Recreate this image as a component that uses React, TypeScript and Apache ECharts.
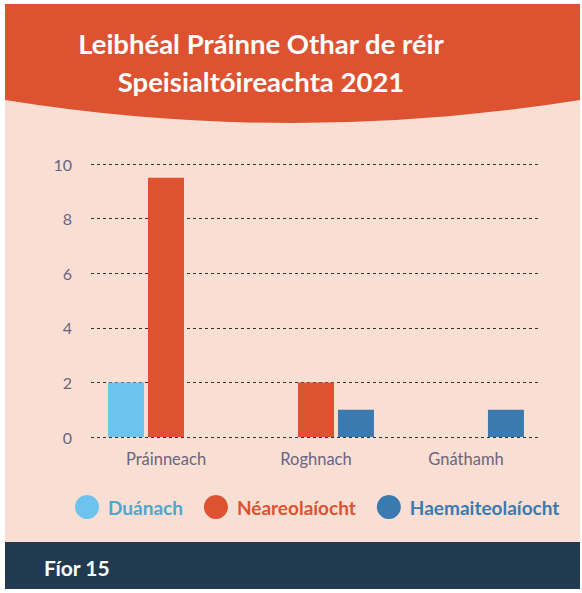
import React, { useEffect, useRef } from "react";
import * as echarts from "echarts";

const categories = ["Práinneach", "Roghnach", "Gnáthamh"];
const duanach = [2, 0, 0];
const neareolaiocht = [9.5, 2, 0];
const haemaiteolaiocht = [0, 1, 1];
const seriesNames = ["Duánach", "Néareolaíocht", "Haemaiteolaíocht"];
const titleLines = ["Leibhéal Práinne Othar de réir", "Speisialtóireachta 2021"];
const footerText = "Fíor 15";

const C_RED = "#dd5230";
const C_LIGHT = "#6cc4ee";
const C_BLUE = "#3a7ab0";
const C_PEACH = "#f9dfd3";
const C_NAVY = "#213a50";
const C_AXIS = "#6b6480";
const FONT = "Lato, 'Open Sans', sans-serif";

echarts.graphic.registerShape(
  "headerShape",
  echarts.graphic.extendPath("M5 4 H580 V100 Q292 146 5 100 Z", {})
);

export default function App() {
  const ref = useRef<HTMLDivElement>(null);
  useEffect(() => {
    if (!ref.current) return;
    const chart = echarts.init(ref.current, undefined, { renderer: "svg" });
    chart.setOption({
      animation: false,
      backgroundColor: "#ffffff",
      title: {
        text: titleLines.join("\n"),
        left: 256,
        top: 19,
        textAlign: "center",
        textStyle: {
          color: "#ffffff",
          fontFamily: FONT,
          fontWeight: "bold",
          fontSize: 27.5,
          lineHeight: 38,
        },
      },
      graphic: [
        {
          type: "rect",
          z: -10,
          shape: { x: 5, y: 4, width: 575, height: 585 },
          style: { fill: C_PEACH },
          silent: true,
        },
        {
          type: "headerShape",
          z: -9,
          x: 0,
          y: 0,
          style: { fill: C_RED },
          silent: true,
        },
        {
          type: "rect",
          z: -9,
          shape: { x: 5, y: 542, width: 575, height: 47 },
          style: { fill: C_NAVY },
          silent: true,
        },
        {
          type: "text",
          z: 5,
          x: 44,
          y: 567,
          style: {
            text: footerText,
            fill: "#ffffff",
            font: `bold 21px ${FONT}`,
            verticalAlign: "middle",
          },
        },
      ],
      legend: {
        left: 75,
        top: 495,
        padding: 0,
        icon: "circle",
        itemWidth: 24,
        itemHeight: 24,
        itemGap: 21,
        textStyle: { fontFamily: FONT, fontWeight: "bold", fontSize: 19, padding: [0, 0, 0, 4] },
        data: [
          { name: seriesNames[0], textStyle: { color: "#4ea6cf" } },
          { name: seriesNames[1], textStyle: { color: C_RED } },
          { name: seriesNames[2], textStyle: { color: C_BLUE } },
        ],
      },
      grid: { left: 91, right: 41, top: 164, bottom: 156, containLabel: false },
      xAxis: {
        type: "category",
        data: categories,
        axisLine: { show: false },
        axisTick: { show: false },
        axisLabel: { color: C_AXIS, fontFamily: FONT, fontSize: 16.5, margin: 13 },
      },
      yAxis: {
        type: "value",
        min: 0,
        max: 10,
        interval: 2,
        axisLine: { show: false },
        axisTick: { show: false },
        axisLabel: { color: C_AXIS, fontFamily: FONT, fontSize: 16, margin: 19 },
        splitLine: { lineStyle: { color: "#333333", type: [3, 3], width: 1 } },
      },
      series: [
        { name: seriesNames[0], type: "bar", data: duanach, barWidth: 36, barGap: "11%", itemStyle: { color: C_LIGHT } },
        { name: seriesNames[1], type: "bar", data: neareolaiocht, barWidth: 36, barGap: "11%", itemStyle: { color: C_RED } },
        { name: seriesNames[2], type: "bar", data: haemaiteolaiocht, barWidth: 36, barGap: "11%", itemStyle: { color: C_BLUE } },
      ],
    });
    return () => chart.dispose();
  }, []);
  return (
    <div
      ref={ref}
      style={{ position: "fixed", left: 0, top: 0, width: 582, height: 593 }}
    />
  );
}
